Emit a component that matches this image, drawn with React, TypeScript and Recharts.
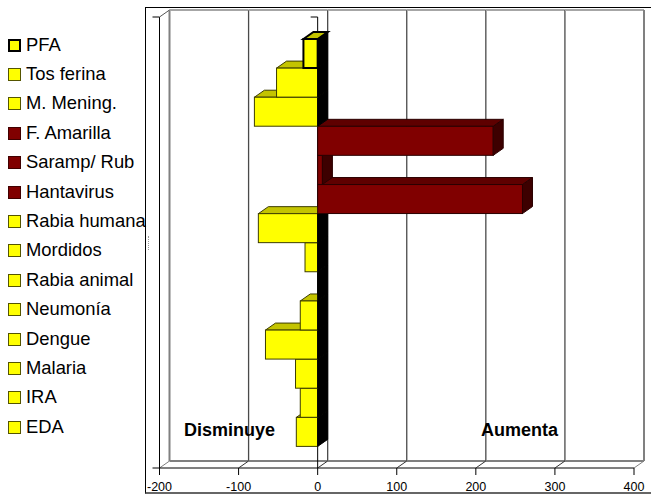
import { BarChart, Bar, XAxis, YAxis, CartesianGrid } from "recharts";

const categories = [
  "PFA", "Tos ferina", "M. Mening.", "F. Amarilla", "Saramp/ Rub", "Hantavirus", "Rabia humana",
  "Mordidos", "Rabia animal", "Neumonía", "Dengue", "Malaria", "IRA", "EDA",
];
const cambio = [-18, -52, -80, 222, 6, 259, -75, -16, 0, -22, -66, -28, -22, -27];
const xTicks = [-200, -100, 0, 100, 200, 300, 400];

const W = 651, H = 495;
const LEFT = 159.5, RIGHT = 634, TOP = 17, BOTTOM = 468;
const DX = 10, DY = 7; // profundidad del efecto 3D
const STEP = (RIGHT - LEFT) / (xTicks.length - 1);

// se dibuja de abajo hacia arriba, las barras superiores tapan a las inferiores
const data = categories.map((name, i) => ({ name, value: cambio[i], idx: i })).reverse();

const colorOf = (v: number) => (v > 0 ? "#800000" : "#FFFF00");

function Bar3D(props: any) {
  const { x, y, width, height, payload } = props;
  const v = payload.value;
  const lo = Math.min(x, x + width);
  const hi = Math.max(x, x + width);
  const pfa = payload.idx === 0;
  const edge = pfa ? "#000" : v > 0 ? "#2a0000" : "#3d3d00";
  const sw = pfa ? 2 : 1;
  const top = v > 0 ? "#5e0000" : "#C4C400";
  const side = v > 0 ? "#3d0000" : "#000";
  const b = y + height;
  return (
    <g>
      {hi > lo && (
        <polygon
          points={`${lo},${y} ${lo + DX},${y - DY} ${hi + DX},${y - DY} ${hi},${y}`}
          fill={top} stroke={edge} strokeWidth={sw}
        />
      )}
      {hi > lo && <rect x={lo} y={y} width={hi - lo} height={height} fill={colorOf(v)} stroke={edge} strokeWidth={sw} />}
      <polygon
        points={`${hi},${y} ${hi + DX},${y - DY} ${hi + DX},${b - DY} ${hi},${b}`}
        fill={side} stroke={v > 0 ? edge : "#000"} strokeWidth={1}
      />
    </g>
  );
}

function GridLine(props: any) {
  const { x1, index } = props;
  const last = index === xTicks.length - 1;
  const border = index === 0 || last;
  const bx = x1 + DX;
  return (
    <g fill="none">
      <line x1={bx} y1={TOP - DY} x2={bx} y2={BOTTOM - DY} stroke={border ? "#808080" : "#4a4a4a"} strokeWidth={border ? 2 : 1.3} />
      {!last && <line x1={bx} y1={TOP - DY} x2={bx + STEP} y2={TOP - DY} stroke="#a6a6a6" strokeWidth={2} />}
      {!last && <line x1={bx} y1={BOTTOM - DY} x2={bx + STEP} y2={BOTTOM - DY} stroke="#808080" strokeWidth={2} />}
      <line x1={x1} y1={BOTTOM} x2={bx} y2={BOTTOM - DY} stroke={border ? "#808080" : "#333"} />
      <line x1={x1} y1={BOTTOM} x2={x1} y2={BOTTOM + 7} stroke="#000" />
      {index === 0 && (
        <g stroke="#000">
          <line x1={x1} y1={TOP} x2={x1} y2={BOTTOM} />
          <line x1={x1 - 7} y1={TOP} x2={x1} y2={TOP} />
          <line x1={x1} y1={TOP} x2={bx} y2={TOP - DY} stroke="#555" />
          <line x1={x1 - 7} y1={BOTTOM} x2={RIGHT} y2={BOTTOM} />
        </g>
      )}
      {xTicks[index] === 0 && (
        <g stroke="#000">
          <line x1={x1} y1={TOP} x2={x1} y2={BOTTOM} />
          <line x1={x1 - 7} y1={TOP} x2={x1} y2={TOP} />
        </g>
      )}
    </g>
  );
}

const sans = "'Liberation Sans', Arial, sans-serif";

function Leyenda() {
  return (
    <>
      {categories.map((c, i) => {
        const pfa = i === 0;
        return (
          <div key={c} style={{ position: "absolute", left: 8, top: 30 + i * 29.4, height: 29, display: "flex", alignItems: "center", whiteSpace: "nowrap", fontSize: 18.4, color: "#000" }}>
            <span style={{
              boxSizing: "border-box", width: 13, height: 13, marginRight: 5, marginTop: 1,
              background: colorOf(cambio[i]),
              border: pfa ? "2.5px solid #000" : `1px solid ${cambio[i] > 0 ? "#400000" : "#555500"}`,
            }} />
            {c}
          </div>
        );
      })}
    </>
  );
}

export default function App() {
  return (
    <div style={{ position: "absolute", left: 0, top: 0, width: W, height: H, background: "#fff", overflow: "hidden", fontFamily: sans }}>
      <div style={{ position: "absolute", left: 145, top: 7, width: W, height: 484, borderLeft: "1px solid #000", borderTop: "1px solid #000", borderBottom: "2px solid #666" }} />
      <div style={{ position: "absolute", left: 148, top: 236, width: 1, height: 14, borderLeft: "1px dotted #999" }} />
      <div style={{ position: "absolute", left: 0, top: 0 }}>
        <BarChart
          width={W} height={H} data={data} layout="vertical" barCategoryGap={0}
          margin={{ top: TOP, bottom: 0, left: LEFT, right: W - RIGHT }}
        >
          <CartesianGrid horizontal={false} vertical={GridLine as any} stroke="#000" />
          <XAxis
            type="number" domain={[-200, 400]} ticks={xTicks} interval={0}
            axisLine={false} tickLine={false} height={H - BOTTOM} tickMargin={8}
            tick={{ fontSize: 12.5, fill: "#000", fontFamily: sans }}
          />
          <YAxis type="category" dataKey="name" hide reversed padding={{ top: 22, bottom: 21.5 }} />
          <Bar dataKey="value" shape={Bar3D as any} isAnimationActive={false} />
        </BarChart>
      </div>
      <Leyenda />
      <div style={{ position: "absolute", left: 184, top: 420, fontSize: 18, fontWeight: 700 }}>Disminuye</div>
      <div style={{ position: "absolute", left: 481, top: 420, fontSize: 18, fontWeight: 700 }}>Aumenta</div>
    </div>
  );
}
